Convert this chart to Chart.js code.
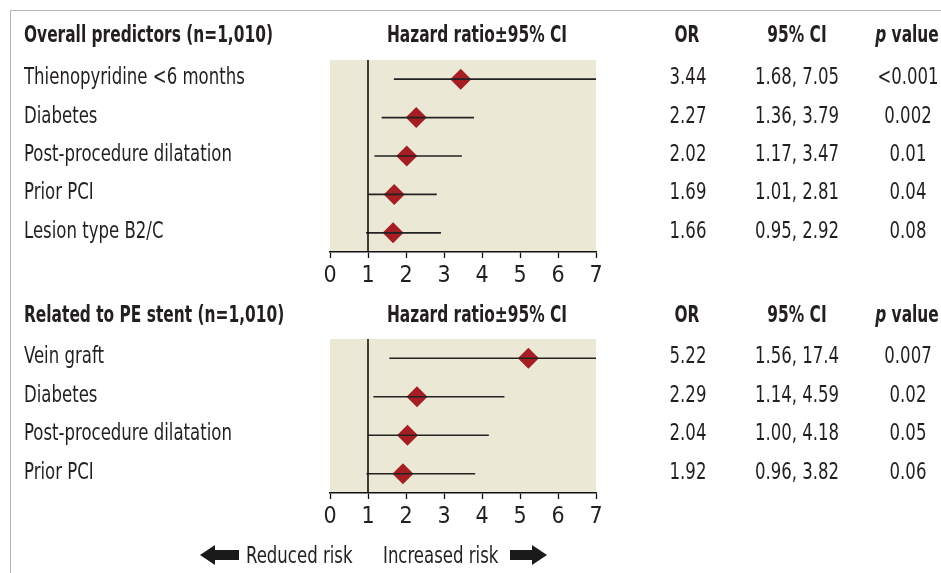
<!DOCTYPE html>
<html>
<head>
<meta charset="utf-8">
<script src="https://cdn.jsdelivr.net/npm/chart.js@4"></script>
<style>
html, body { margin:0; padding:0; background:#fff; }
#wrap { position:relative; width:941px; height:573px; overflow:hidden; }
#frame { position:absolute; left:10px; top:10px; width:1000px; height:700px; border-top:1px solid #b4b4b4; border-left:1px solid #b4b4b4; }
canvas { position:absolute; left:0; }
</style>
</head>
<body>
<div id="wrap">
  <div id="frame"></div>
  <canvas id="c1" width="941" height="290" style="top:0"></canvas>
  <canvas id="c2" width="941" height="283" style="top:290px"></canvas>
</div>
<script>
// ===== Data =====
const overallLabels = ["Thienopyridine <6 months", "Diabetes", "Post-procedure dilatation", "Prior PCI", "Lesion type B2/C"];
const overallOR = [3.44, 2.27, 2.02, 1.69, 1.66];
const overallLow = [1.68, 1.36, 1.17, 1.01, 0.95];
const overallHigh = [7.05, 3.79, 3.47, 2.81, 2.92];
const overallCI = ["1.68, 7.05", "1.36, 3.79", "1.17, 3.47", "1.01, 2.81", "0.95, 2.92"];
const overallP = ["<0.001", "0.002", "0.01", "0.04", "0.08"];

const stentLabels = ["Vein graft", "Diabetes", "Post-procedure dilatation", "Prior PCI"];
const stentOR = [5.22, 2.29, 2.04, 1.92];
const stentLow = [1.56, 1.14, 1.00, 0.96];
const stentHigh = [17.4, 4.59, 4.18, 3.82];
const stentCI = ["1.56, 17.4", "1.14, 4.59", "1.00, 4.18", "0.96, 3.82"];
const stentP = ["0.007", "0.02", "0.05", "0.06"];

const xMin = 0, xMax = 7;

// ===== Style =====
const FONT = "'DejaVu Sans Condensed', 'Liberation Sans Narrow', sans-serif";
const INK = "#231f20";
const BEIGE = "#ece8d6";
const DIAMOND = "#a51e24";
const SX_REG = 0.8;    // squeeze to mimic the narrow typeface
const SX_BOLD = 0.745;

Chart.defaults.font.family = FONT;
Chart.defaults.color = INK;

// draw horizontally squeezed text
function say(ctx, str, x, y, align, sx) {
  const w = ctx.measureText(str).width * sx;
  let x0 = x;
  if (align === 'center') x0 = x - w / 2;
  else if (align === 'right') x0 = x - w;
  ctx.save();
  ctx.translate(x0, y);
  ctx.scale(sx, 1);
  ctx.textAlign = 'left';
  ctx.fillText(str, 0, 0);
  ctx.restore();
  return w;
}

// beige panel behind the marks
const panelBg = {
  id: 'panelBg',
  beforeDraw(chart) {
    const a = chart.chartArea, ctx = chart.ctx;
    ctx.save();
    ctx.fillStyle = BEIGE;
    ctx.fillRect(a.left, a.top, a.right - a.left, a.bottom - a.top);
    ctx.restore();
  }
};

// labels + OR / CI / p columns, aligned to the y scale
const table = {
  id: 'table',
  afterDraw(chart, args, o) {
    const ctx = chart.ctx, y = chart.scales.y;
    ctx.save();
    ctx.fillStyle = INK;
    ctx.textBaseline = 'alphabetic';
    ctx.font = 'bold 23px ' + FONT;
    say(ctx, o.title, 24, o.headY, 'left', SX_BOLD);
    say(ctx, 'Hazard ratio\u00b195% CI', 477, o.headY, 'center', SX_BOLD);
    say(ctx, 'OR', 687, o.headY, 'center', SX_BOLD);
    say(ctx, '95% CI', 797, o.headY, 'center', SX_BOLD);
    // "p value" with italic p
    ctx.font = 'italic bold 23px ' + FONT;
    const wp = ctx.measureText('p').width * SX_BOLD;
    ctx.font = 'bold 23px ' + FONT;
    const wv = ctx.measureText(' value').width * SX_BOLD;
    const px = 907 - (wp + wv) / 2;
    ctx.font = 'italic bold 23px ' + FONT;
    say(ctx, 'p', px, o.headY, 'left', SX_BOLD);
    ctx.font = 'bold 23px ' + FONT;
    say(ctx, ' value', px + wp, o.headY, 'left', SX_BOLD);

    ctx.font = '23px ' + FONT;
    o.labels.forEach((t, i) => {
      const py = y.getPixelForValue(i + 0.5) + 5;
      say(ctx, t, 24, py, 'left', SX_REG);
      say(ctx, o.or[i].toFixed(2), 688, py, 'center', SX_REG);
      say(ctx, o.ci[i], 797, py, 'center', SX_REG);
      say(ctx, o.p[i], 908, py, 'center', SX_REG);
    });

    if (o.legendY) {
      const ly = o.legendY;
      ctx.fillStyle = '#1a1a1a';
      // left arrow
      ctx.fillRect(213, ly - 5, 26, 10);
      ctx.beginPath();
      ctx.moveTo(200, ly); ctx.lineTo(215, ly - 10); ctx.lineTo(215, ly + 10); ctx.closePath(); ctx.fill();
      // right arrow
      ctx.fillRect(510, ly - 5, 24, 10);
      ctx.beginPath();
      ctx.moveTo(547, ly); ctx.lineTo(532, ly - 10); ctx.lineTo(532, ly + 10); ctx.closePath(); ctx.fill();
      ctx.fillStyle = INK;
      ctx.font = '23px ' + FONT;
      say(ctx, 'Reduced risk', 246, ly + 8, 'left', SX_REG);
      say(ctx, 'Increased risk', 383, ly + 8, 'left', SX_REG);
    }
    ctx.restore();
  }
};

function forest(id, title, labels, or, lo, hi, ci, p, layout, legendY) {
  const n = labels.length;
  const datasets = [];
  // no-effect line at 1
  datasets.push({ data: [{ x: 1, y: 0 }, { x: 1, y: n }], showLine: true, borderColor: '#111', borderWidth: 1.6, pointRadius: 0 });
  // CI whiskers
  labels.forEach((_, i) => {
    datasets.push({ data: [{ x: lo[i], y: i + 0.5 }, { x: hi[i], y: i + 0.5 }], showLine: true, borderColor: '#222', borderWidth: 1.7, pointRadius: 0 });
  });
  // point estimates
  datasets.push({ data: or.map((v, i) => ({ x: v, y: i + 0.5 })), pointStyle: 'rectRot', pointRadius: 10.5, backgroundColor: DIAMOND, borderWidth: 0 });

  return new Chart(document.getElementById(id), {
    type: 'scatter',
    data: { datasets },
    options: {
      responsive: false,
      animation: false,
      events: [],
      layout: { padding: layout },
      plugins: {
        legend: { display: false },
        tooltip: { enabled: false },
        table: { title, labels, or, ci, p, headY: layout.headY, legendY }
      },
      scales: {
        x: {
          type: 'linear', min: xMin, max: xMax,
          afterFit: s => { s.height = 38; },
          border: { display: true, color: '#111', width: 1.6 },
          grid: { drawOnChartArea: false, drawTicks: true, tickLength: 6, tickColor: '#111', tickWidth: 1.3 },
          ticks: { stepSize: 1, padding: 4, font: { size: 23 }, color: INK }
        },
        y: { type: 'linear', min: 0, max: n, reverse: true, display: false }
      }
    },
    plugins: [panelBg, table]
  });
}

forest('c1', 'Overall predictors (n=1,010)', overallLabels, overallOR, overallLow, overallHigh, overallCI, overallP,
  { left: 330, right: 345, top: 60, bottom: 0, headY: 42 }, null);
forest('c2', 'Related to PE stent (n=1,010)', stentLabels, stentOR, stentLow, stentHigh, stentCI, stentP,
  { left: 330, right: 345, top: 49, bottom: 42, headY: 32 }, 265);
</script>
</body>
</html>
